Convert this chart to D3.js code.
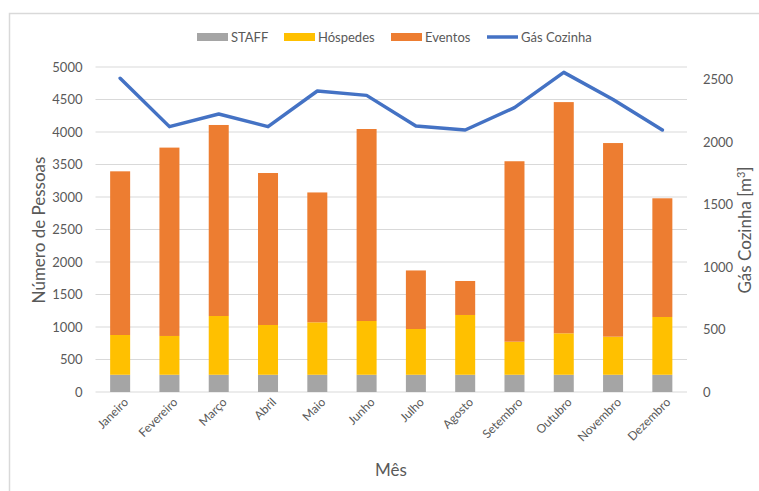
<!DOCTYPE html>
<html><head><meta charset="utf-8">
<script src="https://cdn.jsdelivr.net/npm/d3@7"></script>
<style>body{margin:0;background:#fff;} svg{display:block;font-family:Lato,"Open Sans",sans-serif;}</style>
</head><body>
<svg id="chart" width="759" height="491"></svg>
<script>
const months = ["Janeiro","Fevereiro","Março","Abril","Maio","Junho","Julho","Agosto","Setembro","Outubro","Novembro","Dezembro"];
const staff = [265,265,265,265,265,265,265,265,265,265,265,265];
const hospedes = [612,597,904,766,807,827,704,920,509,638,586,889];
const eventos = [2518,2898,2939,2338,1998,2954,901,523,2776,3557,2979,1826];
const gas = [2510,2123,2224,2123,2408,2373,2128,2096,2275,2557,2340,2096];
const leftTicks = [0,500,1000,1500,2000,2500,3000,3500,4000,4500,5000];
const rightTicks = [0,500,1000,1500,2000,2500];
const seriesNames = ["STAFF","Hóspedes","Eventos","Gás Cozinha"];
const colors = ["#A5A5A5","#FFC000","#ED7D31","#4472C4"];

const svg = d3.select("#chart");
svg.append("path").attr("d","M9.5,491 V13.5 H759").attr("fill","none").attr("stroke","#d9d9d9").attr("stroke-width",1.5);

const pL = 95.5, pR = 687, pT = 67, pB = 392;
const x = d3.scaleBand().domain(months).range([pL,pR]).paddingInner(0.6).paddingOuter(0.3);
const y = d3.scaleLinear().domain([0,5000]).range([pB,pT]);
const y2 = d3.scaleLinear().domain([0,2600]).range([pB,pT]);

// gridlines
svg.append("g").selectAll("line").data(leftTicks).join("line")
  .attr("x1",pL).attr("x2",pR).attr("y1",d=>y(d)).attr("y2",d=>y(d))
  .attr("stroke","#d9d9d9").attr("stroke-width",1);

// stacked bars
const rows = months.map((m,i)=>({month:m, STAFF:staff[i], "Hóspedes":hospedes[i], Eventos:eventos[i]}));
const stack = d3.stack().keys(["STAFF","Hóspedes","Eventos"])(rows);
const bw = 20;
svg.append("g").selectAll("g").data(stack).join("g").attr("fill",(d,i)=>colors[i])
  .selectAll("rect").data(d=>d).join("rect")
  .attr("x",d=>x(d.data.month)+x.bandwidth()/2-bw/2).attr("width",bw)
  .attr("y",d=>y(d[1])).attr("height",d=>y(d[0])-y(d[1]));

// line
const line = d3.line().x((d,i)=>x(months[i])+x.bandwidth()/2).y(d=>y2(d));
svg.append("path").datum(gas).attr("d",line).attr("fill","none").attr("stroke",colors[3])
  .attr("stroke-width",3.5).attr("stroke-linejoin","round").attr("stroke-linecap","round");

// axes
const tc = "#595959";
const ax = svg.append("g").attr("transform",`translate(0,${pB})`).call(d3.axisBottom(x).tickSize(0).tickPadding(0));
ax.select(".domain").remove();
ax.selectAll("text").attr("fill",tc).style("font-size","12px").style("font-family","Lato,sans-serif")
  .attr("text-anchor","end").attr("dx","0.35em").attr("dy","0.7em").attr("transform","translate(0,8) rotate(-45)");

const fmt = d3.format("d");
const ayl = svg.append("g").attr("transform",`translate(${pL},0)`).call(d3.axisLeft(y).tickValues(leftTicks).tickFormat(fmt).tickSize(0).tickPadding(13));
ayl.select(".domain").remove();
ayl.selectAll("text").attr("fill",tc).style("font-size","13px").style("font-family","Lato,sans-serif");

const ayr = svg.append("g").attr("transform",`translate(${pR},0)`).call(d3.axisRight(y2).tickValues(rightTicks).tickFormat(fmt).tickSize(0).tickPadding(16));
ayr.select(".domain").remove();
ayr.selectAll("text").attr("fill",tc).style("font-size","13px").style("font-family","Lato,sans-serif");

// axis titles
svg.append("text").attr("transform","translate(45,230) rotate(-90)").attr("text-anchor","middle")
  .attr("fill",tc).style("font-size","17px").text("Número de Pessoas");
const rt = svg.append("text").attr("transform","translate(751,230) rotate(-90)").attr("text-anchor","middle")
  .attr("fill",tc).style("font-size","17px");
rt.append("tspan").text("Gás Cozinha [m");
rt.append("tspan").attr("dy","-6").style("font-size","11px").text("3");
rt.append("tspan").attr("dy","6").text("]");
svg.append("text").attr("x",391).attr("y",476).attr("text-anchor","middle").attr("fill",tc).style("font-size","17px").text("Mês");

// legend
const legX = [197,284,391,487];
const lg = svg.append("g");
seriesNames.forEach((n,i)=>{
  if(i<3) lg.append("rect").attr("x",legX[i]).attr("y",33).attr("width",31).attr("height",8).attr("fill",colors[i]);
  else lg.append("line").attr("x1",legX[i]).attr("x2",legX[i]+31).attr("y1",37).attr("y2",37).attr("stroke",colors[i]).attr("stroke-width",3.5);
  lg.append("text").attr("x",legX[i]+34).attr("y",41.5).attr("fill",tc).style("font-size","13px").text(n);
});
</script>
</body></html>
